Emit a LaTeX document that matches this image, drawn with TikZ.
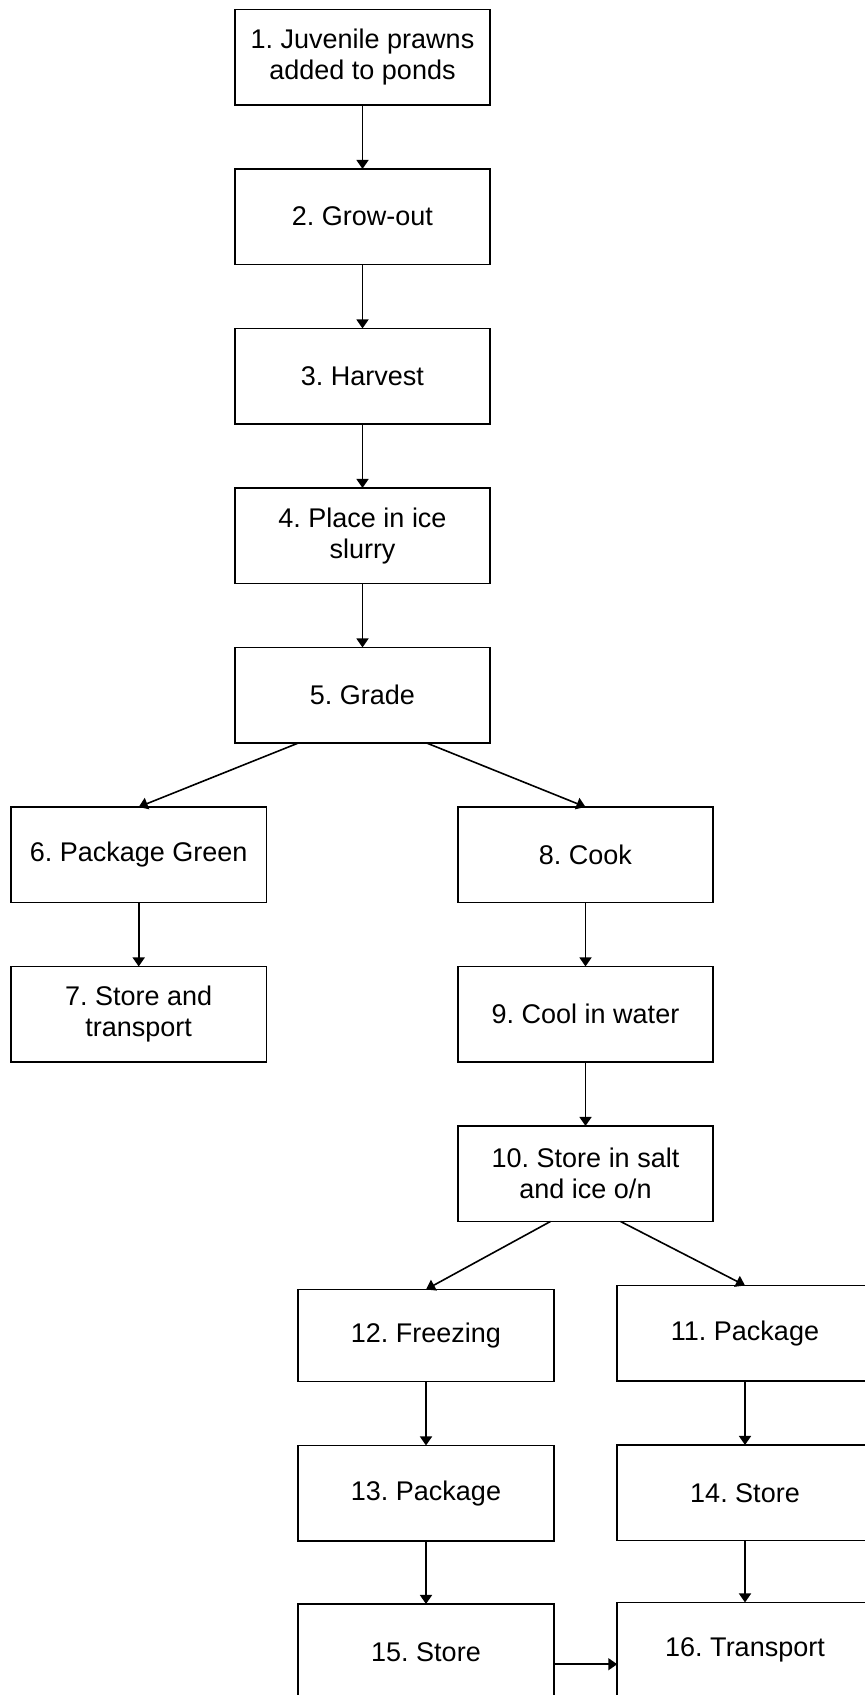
\documentclass[tikz,border=0pt]{standalone}
\usepackage{fontspec}
\setmainfont{Liberation Sans}
\usetikzlibrary{positioning,arrows.meta}
\frenchspacing

\begin{document}
\begin{tikzpicture}[auto, thick, node distance=32pt, >={Triangle[width=6pt,length=4.5pt]}]
% Definition of blocks:
\tikzset{%
  block/.style = {draw, rectangle, minimum height = 47.75pt, minimum width = 127.75pt, align = center, inner sep = 2pt, outer sep = 0pt, font = \fontsize{13.5pt}{15.5pt}\selectfont}
}
\useasboundingbox (0,0) rectangle (432pt,-847.5pt);

% main line
\draw
	node [block] (Juvenile) at (181.25pt,-28.6pt) {1. Juvenile prawns\\added to ponds}
	node [block, below = of Juvenile] (Growout) {2. Grow-out}
	node [block, below = of Growout] (Harvest) {3. Harvest}
	node [block, below = of Harvest] (Slurry) {4. Place in ice\\slurry}
	node [block, below = of Slurry] (Grade) {5. Grade};

\draw[->](Juvenile) -- (Growout);
\draw[->](Growout) -- (Harvest);
\draw[->](Harvest) -- (Slurry);
\draw[->](Slurry) -- (Grade);

% green branch
\draw
	node [block, below = of Grade, xshift = -111.9pt] (Green) {6. Package Green}
	node [block, below = of Green] (StoreGreen) {7. Store and\\transport};

\draw[->]([xshift=-32pt]Grade.south) -- (Green.north);
\draw[->](Green) -- (StoreGreen);

% cooked branch
\draw
	node [block, below = of Grade, xshift = 111.5pt] (Cook) {8. Cook}
	node [block, below = of Cook] (Cool) {9. Cool in water}
	node [block, below = of Cool] (SaltIce) {10. Store in salt\\and ice o/n};

\draw[->]([xshift=32pt]Grade.south) -- (Cook.north);
\draw[->](Cook) -- (Cool);
\draw[->](Cool) -- (SaltIce);

\draw
	node [block, minimum height = 46pt, below = 34pt of SaltIce, xshift = -79.75pt] (Freezing) {12. Freezing}
	node [block, below = of Freezing] (PackFrozen) {13. Package}
	node [block, below = 31.5pt of PackFrozen] (StoreFrozen) {15. Store}
	node [block, below = of SaltIce, xshift = 79.75pt] (Package) {11. Package}
	node [block, below = of Package] (StoreCooked) {14. Store}
	node [block, below = 31pt of StoreCooked] (Transport) {16. Transport};

\draw[->]([xshift=-17.5pt]SaltIce.south) -- (Freezing.north);
\draw[->]([xshift=17.5pt]SaltIce.south) -- (Package.north);
\draw[->](Freezing) -- (PackFrozen);
\draw[->](PackFrozen) -- (StoreFrozen);
\draw[->](Package) -- (StoreCooked);
\draw[->](StoreCooked) -- (Transport);
\draw[->]([yshift=-6.25pt]StoreFrozen.east) -- ([yshift=-6.25pt]StoreFrozen.east -| Transport.west);

\end{tikzpicture}
\end{document}
